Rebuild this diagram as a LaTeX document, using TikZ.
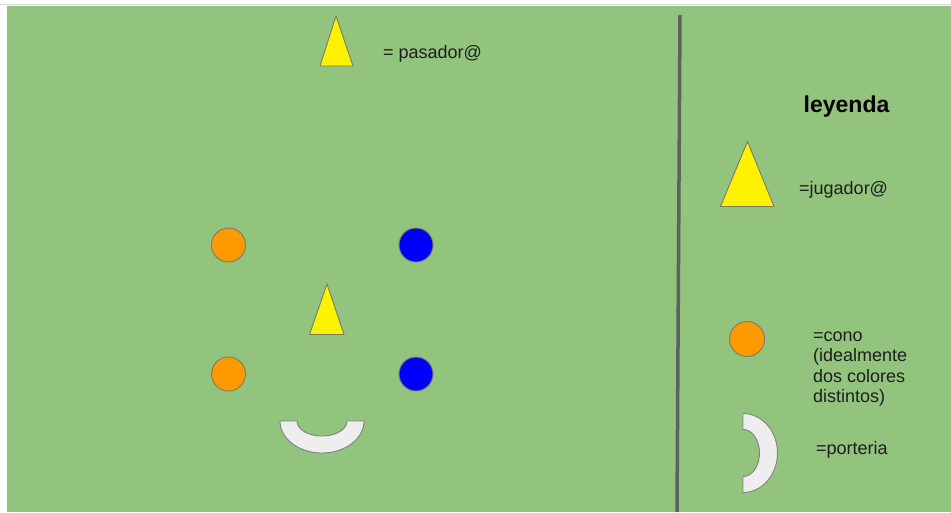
\documentclass[tikz,border=0pt]{standalone}
\usepackage{fontspec}
\setmainfont{Liberation Sans}
\definecolor{field}{HTML}{93C47D}
\definecolor{conoorange}{HTML}{FF9900}
\definecolor{conoblue}{HTML}{0000FF}
\definecolor{goalfill}{HTML}{EEEEEE}
\definecolor{edgegray}{HTML}{7A7A6A}
\definecolor{linegray}{HTML}{606060}
\definecolor{txt}{HTML}{1E1E1E}
\tikzset{
  tri/.style={fill=yellow, draw=edgegray, line width=0.9pt, line join=miter},
  conoA/.style={fill=conoorange, draw=edgegray, line width=0.9pt},
  conoB/.style={fill=conoblue, draw=edgegray, line width=0.9pt},
  goal/.style={fill=goalfill, draw=gray, line width=0.9pt},
  lbl/.style={anchor=base west, inner sep=0pt, text=txt, font=\fontsize{18}{20.5}\selectfont},
  title/.style={anchor=base west, inner sep=0pt, text=black, font=\fontsize{23}{26}\selectfont\bfseries}
}
\begin{document}
\begin{tikzpicture}[x=1pt,y=-1pt]
\useasboundingbox (0,0) rectangle (951,512);
\fill[white] (0,0) rectangle (951,512);
\fill[field] (7,6) rectangle (951,512);
\draw[gray!30, line width=1.2pt] (0,4.6) -- (951,4.6);
% divider
\draw[linegray, line width=3.5pt] (680,15) -- (677,512);
% pasador
\draw[tri] (336,16) -- (353,66) -- (320,66) -- cycle;
\node[lbl] (pasador) at (383,58) {= pasador@};
% cones
\draw[conoA] (228.5,245) circle (17);
\draw[conoA] (228.5,374) circle (17);
\draw[conoB] (416,245) circle (17);
\draw[conoB] (416,374) circle (17);
% jugador centre
\draw[tri] (327,284) -- (344,334.5) -- (309.5,334.5) -- cycle;
% goal bottom
\draw[goal] (280,421)
  -- plot[domain=180:0, samples=60] ({322+42*cos(\x)},{421+32*sin(\x)})
  -- (347,421)
  -- plot[domain=0:180, samples=60] ({322+25*cos(\x)},{421+15*sin(\x)})
  -- cycle;
% legend
\node[title] (leyenda) at (803.5,112.5) {leyenda};
\draw[tri] (747.5,141.5) -- (774,206.5) -- (720.5,206.5) -- cycle;
\node[lbl] (jugador) at (799,194) {=jugador@};
\draw[conoA] (747,339) circle (17.5);
\node[lbl, align=left] (cono) at (813,402.5) {=cono\\(idealmente\\dos colores\\distintos)};
\draw[goal] (743,413.5)
  -- plot[domain=-90:90, samples=60] ({743+34.5*cos(\x)},{453+39.5*sin(\x)})
  -- (743,476.5)
  -- plot[domain=90:-90, samples=60] ({743+16.5*cos(\x)},{453+23.5*sin(\x)})
  -- cycle;
\node[lbl] (porteria) at (816,454) {=porteria};
\end{tikzpicture}
\end{document}
